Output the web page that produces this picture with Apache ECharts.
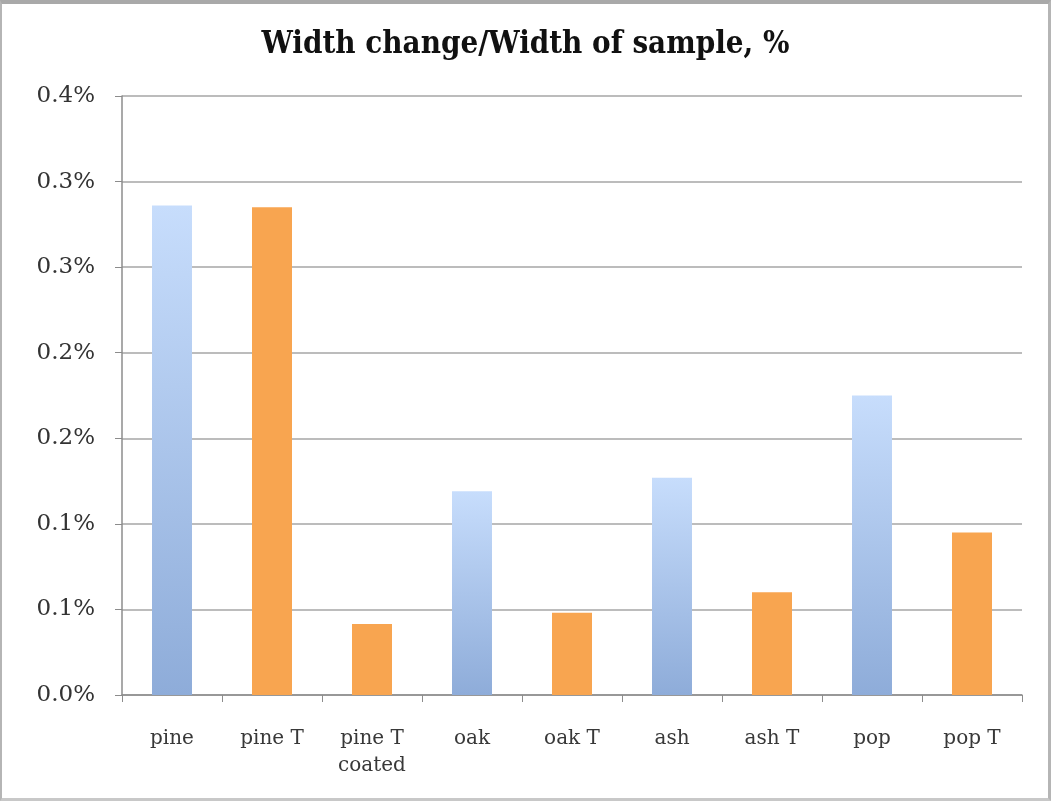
<!DOCTYPE html>
<html>
<head>
<meta charset="utf-8">
<script src="https://cdn.jsdelivr.net/npm/echarts@6/dist/echarts.min.js"></script>
<style>
  html, body { margin: 0; padding: 0; background: #fff; }
  #chart { width: 1051px; height: 801px; position: absolute; left: 0; top: 0; }
  #frame { position: absolute; left: 0; top: 0; width: 1051px; height: 801px; box-sizing: border-box;
           border-top: 4px solid #a9a9a9; border-left: 2px solid #b5b5b5; border-right: 3px solid #b5b5b5; border-bottom: 3px solid #c8c8c8; pointer-events: none; }
</style>
</head>
<body>
<div id="chart"></div>
<div id="frame"></div>
<script>
// Data
const categories = ['pine', 'pine T', 'pine T\ncoated', 'oak', 'oak T', 'ash', 'ash T', 'pop', 'pop T'];
const values = [0.286, 0.285, 0.0415, 0.119, 0.048, 0.127, 0.060, 0.175, 0.095];
const treated = [false, true, true, false, true, false, true, false, true];
const yTickLabels = ['0.0%', '0.1%', '0.1%', '0.2%', '0.2%', '0.3%', '0.3%', '0.4%'];
const yStep = 0.05;

const blueFill = new echarts.graphic.LinearGradient(0, 0, 0, 1, [
  { offset: 0, color: '#c7ddfc' },
  { offset: 1, color: '#8eacd9' }
]);
const orangeFill = '#f8a550';

const chart = echarts.init(document.getElementById('chart'), null, { renderer: 'canvas' });
chart.setOption({
  animation: false,
  backgroundColor: '#fff',
  title: {
    text: 'Width change/Width of sample, %',
    left: 'center',
    top: 24,
    textStyle: { fontFamily: '"DejaVu Serif Condensed", "DejaVu Serif", serif', fontWeight: 'bold', fontSize: 31, color: '#111' }
  },
  grid: { left: 122, right: 29, top: 96, bottom: 106, containLabel: false },
  xAxis: {
    type: 'category',
    data: categories,
    axisLine: { lineStyle: { color: '#8c8c8c', width: 1.5 } },
    axisTick: { show: true, alignWithLabel: false, length: 7, lineStyle: { color: '#8c8c8c' } },
    axisLabel: { margin: 30, color: '#383838', fontFamily: '"DejaVu Serif", serif', fontSize: 20, lineHeight: 27, interval: 0 },
    splitLine: { show: false }
  },
  yAxis: {
    type: 'value',
    min: 0,
    max: 0.35,
    interval: yStep,
    axisLine: { show: true, lineStyle: { color: '#8c8c8c', width: 1.5 } },
    axisTick: { show: true, length: 7, lineStyle: { color: '#8c8c8c' } },
    axisLabel: {
      margin: 27, color: '#333', fontFamily: '"DejaVu Serif", serif', fontSize: 23,
      padding: [7, 0, 0, 0],
      formatter: v => yTickLabels[Math.round(v / yStep)]
    },
    splitLine: { show: true, lineStyle: { color: '#a6a6a6', width: 1.5 } }
  },
  series: [{
    type: 'bar',
    barWidth: '40%',
    data: values.map((v, i) => ({ value: v, itemStyle: { color: treated[i] ? orangeFill : blueFill } }))
  }]
});
</script>
</body>
</html>
